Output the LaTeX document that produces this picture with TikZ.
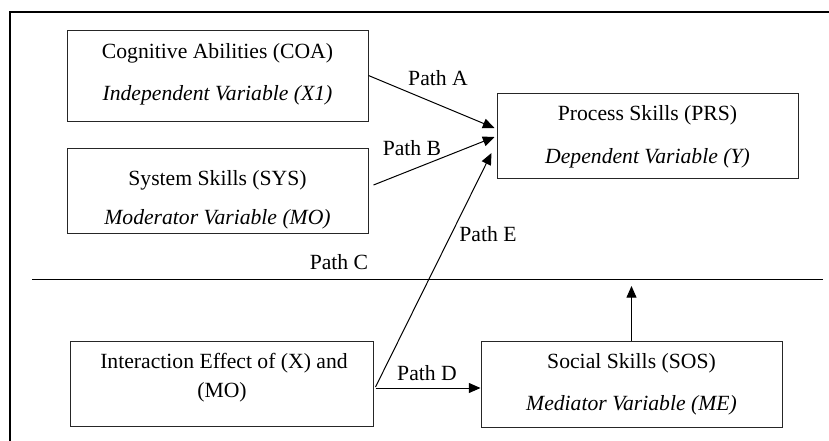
\documentclass[tikz,border=0pt]{standalone}
\usepackage{fontspec}
\setmainfont{Liberation Serif}
\usetikzlibrary{arrows.meta}

\begin{document}
\begin{tikzpicture}[x=0.6pt, y=-0.6pt, font=\fontsize{13}{15}\selectfont,
  var/.style={draw=black!85, line width=0.6pt, minimum width=180.6pt, minimum height=51pt, inner sep=0pt},
  lbl/.style={anchor=base, inner sep=0pt},
  tag/.style={inner sep=0pt},
  link/.style={line width=0.6pt, -{Triangle[length=7pt, width=6pt]}}]
\useasboundingbox (0,0) rectangle (829,440);
\clip (0,0) rectangle (829,440);
\draw[line width=1.3pt] (10,450) -- (10,12) -- (840,12);
% boxes
\node[var, minimum height=54.6pt] (coa) at (217.5,75.5) {};
\node[var] (sys) at (217.5,190.5) {};
\node[var] (prs) at (647.5,135.5) {};
\node[var, minimum width=181.8pt] (ie) at (221.5,383.5) {};
\node[var, minimum height=51.6pt] (sos) at (631.5,384) {};
\node[lbl] (coat) at (217.5,58) {Cognitive Abilities (COA)};
\node[lbl] (coav) at (217.5,100) {\itshape Independent Variable (X1)};
\node[lbl] (syst) at (217.5,185) {System Skills (SYS)};
\node[lbl] (sysv) at (217.5,224) {\itshape Moderator Variable (MO)};
\node[lbl] (prst) at (647.5,120) {Process Skills (PRS)};
\node[lbl] (prsv) at (647.5,163) {\itshape Dependent Variable (Y)};
\node[lbl] (iet) at (224,368) {Interaction Effect of (X) and};
\node[lbl] (iev) at (222,397) {(MO)};
\node[lbl] (sost) at (631.5,368) {Social Skills (SOS)};
\node[lbl] (sosv) at (631.5,410) {\itshape Mediator Variable (ME)};
% split line
\coordinate (hl) at (32,279);
\coordinate (hr) at (823,279);
\draw[line width=0.6pt] (hl) -- (hr);
% paths
\draw[link] (coa.east) -- ([xshift=-1.2pt, yshift=4.5pt]prs.west);
\draw[link] ([xshift=3pt, yshift=3.3pt]sys.east) -- ([xshift=-1.2pt, yshift=-0.9pt]prs.west);
\draw[link] ([xshift=1.2pt, yshift=-2.1pt]ie.east) -- ([xshift=-3pt, yshift=-10.5pt]prs.west);
\coordinate (d0) at ([xshift=1.2pt, yshift=-2.7pt]ie.east);
\draw[link] (d0) -- (d0 -| sos.west);
\draw[link, shorten >=4.2pt] (sos.north) -- (sos.north |- hl);
\node[tag] (pa) at (438,78) {Path A};
\node[tag] (pb) at (412,148) {Path B};
\node[tag] (pc) at (339,262) {Path C};
\node[tag] (pd) at (427,373) {Path D};
\node[tag] (pe) at (488,234) {Path E};
\end{tikzpicture}
\end{document}
